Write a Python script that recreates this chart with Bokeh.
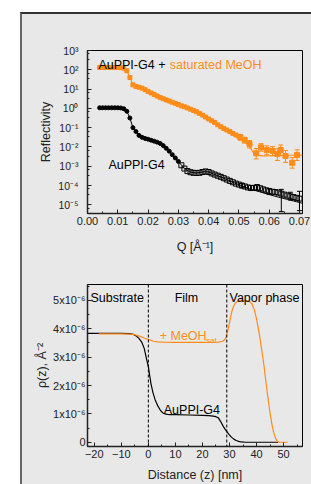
from bokeh.plotting import figure
from bokeh.models import (ColumnDataSource, Whisker, Span, Label, SingleIntervalTicker,
                          CustomJSTickFormatter, NumeralTickFormatter, LogTicker, Range1d,
                          TeeHead, Spacer)
from bokeh.layouts import column, row
from bokeh.embed import file_html
from bokeh.resources import INLINE

FONT = "Liberation Sans"
ORANGE = "#ff8c1a"
PANEL = "#e8e8e8"
INK = "#222222"

# ---------------- Reflectivity data (log10 R) ----------------
q_grid = [0.004, 0.005, 0.006, 0.007, 0.008, 0.009, 0.010, 0.011, 0.012, 0.013,
          0.014, 0.015, 0.016, 0.017, 0.018, 0.019, 0.020, 0.021, 0.022, 0.023,
          0.024, 0.025, 0.026, 0.027, 0.028, 0.029, 0.030, 0.031, 0.032, 0.033,
          0.034, 0.035, 0.036, 0.037, 0.038, 0.039, 0.040, 0.041, 0.042, 0.043,
          0.044, 0.045, 0.046, 0.047, 0.048, 0.049, 0.050, 0.051, 0.052, 0.053,
          0.054, 0.055, 0.056, 0.057, 0.058, 0.059, 0.060, 0.061, 0.062, 0.063,
          0.064, 0.065, 0.066, 0.067, 0.068, 0.069, 0.070]
logr_film = [0.03, 0.03, 0.03, 0.03, 0.03, 0.03, 0.03, 0.02, -0.02, -0.15,
             -0.5, -1.0, -1.2, -1.4, -1.5, -1.56, -1.6, -1.65, -1.7, -1.75,
             -1.82, -1.93, -2.07, -2.22, -2.4, -2.57, -2.75, -2.95, -3.12, -3.25,
             -3.31, -3.34, -3.35, -3.34, -3.3, -3.27, -3.3, -3.37, -3.43, -3.49,
             -3.55, -3.62, -3.69, -3.76, -3.83, -3.9, -3.95, -4.0, -4.05, -4.1,
             -4.13, -4.12, -4.1, -4.14, -4.2, -4.25, -4.3, -4.32, -4.34, -4.37,
             -4.42, -4.47, -4.52, -4.56, -4.6, -4.64, -4.68]
q_fit_film = [0.004, 0.011, 0.012, 0.013, 0.014, 0.015, 0.016, 0.017, 0.018, 0.020,
              0.022, 0.024, 0.026, 0.028, 0.030, 0.032, 0.034, 0.036, 0.038, 0.039,
              0.040, 0.042, 0.045, 0.048, 0.051, 0.054, 0.057, 0.060, 0.063, 0.066,
              0.069, 0.071]
logr_fit_film = [0.03, 0.03, -0.02, -0.15, -0.5, -1.0, -1.2, -1.4, -1.5, -1.6,
                 -1.7, -1.82, -2.07, -2.4, -2.75, -3.12, -3.31, -3.35, -3.3, -3.27,
                 -3.3, -3.43, -3.62, -3.83, -4.02, -4.2, -4.33, -4.47, -4.6, -4.72,
                 -4.84, -4.92]
q_err_film = [0.051, 0.056, 0.060, 0.064, 0.067, 0.070]
logr_err_film_lo = [-4.12, -4.25, -4.45, -5.35, -4.75, -5.3]
logr_err_film_hi = [-3.9, -3.95, -4.15, -4.2, -4.35, -4.3]

q_meoh = [0.004, 0.005, 0.006, 0.007, 0.008, 0.009, 0.010, 0.011, 0.012, 0.013,
          0.014, 0.015, 0.016, 0.017, 0.018, 0.019, 0.020, 0.021, 0.022, 0.023,
          0.024, 0.025, 0.026, 0.027, 0.028, 0.029, 0.030, 0.031, 0.032, 0.033,
          0.034, 0.035, 0.036, 0.037, 0.038, 0.039, 0.040, 0.041, 0.042, 0.043,
          0.044, 0.045, 0.046, 0.047, 0.048, 0.049, 0.050]
logr_meoh = [2.12, 2.12, 2.12, 2.12, 2.12, 2.12, 2.12, 2.11, 2.08, 1.95,
             1.6, 1.22, 1.13, 1.1, 1.05, 0.97, 0.88, 0.8, 0.72, 0.64,
             0.56, 0.5, 0.44, 0.38, 0.32, 0.26, 0.2, 0.13, 0.08, 0.02,
             -0.04, -0.11, -0.18, -0.26, -0.35, -0.45, -0.55, -0.64, -0.73, -0.85,
             -0.95, -1.04, -1.12, -1.2, -1.3, -1.38, -1.45]
q_meoh_err = [0.0505, 0.0519, 0.0535, 0.0557, 0.0573, 0.0592, 0.0611, 0.0627, 0.0638,
              0.0654, 0.0676, 0.0692]
logr_meoh_err = [-1.5, -1.64, -1.85, -2.33, -2.02, -2.16, -2.2, -2.37, -2.16,
                 -2.47, -2.82, -2.42]
logr_meoh_err_lo = [-1.65, -1.8, -2.05, -2.62, -2.22, -2.4, -2.45, -2.7, -2.45,
                    -2.8, -3.1, -2.7]
logr_meoh_err_hi = [-1.36, -1.5, -1.67, -2.08, -1.83, -1.94, -1.98, -2.1, -1.9,
                    -2.18, -2.55, -2.15]
q_fit_meoh = [0.004, 0.011, 0.012, 0.013, 0.014, 0.015, 0.016, 0.017, 0.018, 0.020,
              0.025, 0.030, 0.035, 0.040, 0.045, 0.048, 0.050, 0.052, 0.054, 0.055,
              0.056, 0.058, 0.062, 0.066, 0.071]
logr_fit_meoh = [2.12, 2.12, 2.08, 1.95, 1.6, 1.22, 1.13, 1.1, 1.05, 0.88,
                 0.5, 0.2, -0.11, -0.55, -1.04, -1.3, -1.47, -1.7, -2.1, -2.35,
                 -2.44, -2.46, -2.45, -2.43, -2.42]

# ---------------- Density profiles (units of 1e-6 A^-2) ----------------
z_film = [-25, -10, -7, -5.5, -4.5, -3.5, -2.5, -1.5, -0.7, 0, 0.5, 1, 1.7, 2.5, 3.5,
          4.5, 5.4, 6.5, 7.8, 10, 15, 20, 22.3, 24, 25, 25.9, 26.8, 27.7, 28.3, 28.9,
          29.8, 30.7, 31.6, 32.5, 33.4, 34.3, 36, 40, 48]
rho_film = [3.84, 3.84, 3.83, 3.8, 3.75, 3.66, 3.54, 3.3, 2.95, 2.67, 2.35, 2.05, 1.75,
            1.5, 1.28, 1.12, 1.03, 0.99, 0.97, 0.97, 0.96, 0.95, 0.94, 0.92, 0.9, 0.86,
            0.72, 0.56, 0.47, 0.39, 0.28, 0.18, 0.11, 0.06, 0.03, 0.01, 0.0, 0.0, 0.0]
z_meoh = [-18.4, -10, -7, -5, -4, -3, -2, -1, 0, 1, 2, 3.5, 5.5, 10, 20, 26, 27.5,
          28.3, 28.8, 29.3, 29.8, 30.3, 30.8, 31.4, 32, 32.8, 33.8, 35, 36.5, 37.5,
          38.3, 39.2, 40, 41, 42, 42.8, 43.4, 44, 44.6, 45.2, 45.8, 46.4, 47, 47.6,
          48.5, 51.5]
rho_meoh = [3.82, 3.82, 3.81, 3.79, 3.76, 3.73, 3.69, 3.65, 3.62, 3.59, 3.56, 3.54,
            3.53, 3.52, 3.52, 3.53, 3.56, 3.62, 3.72, 3.9, 4.12, 4.36, 4.58, 4.76,
            4.88, 4.96, 5.0, 5.0, 4.99, 4.95, 4.88, 4.66, 4.35, 3.84, 3.2, 2.67, 2.2,
            1.73, 1.3, 0.91, 0.58, 0.33, 0.15, 0.04, 0.0, 0.0]
interfaces = [0, 29]


def pw(vals):
    return [10 ** v for v in vals]


def e6(vals):
    return [v * 1e-6 for v in vals]


def style_axis(ax, tick_size="11px", label_size="12.5px"):
    ax.major_tick_in = 4
    ax.major_tick_out = 0
    ax.minor_tick_in = 2
    ax.minor_tick_out = 0
    ax.axis_line_width = 1.5
    ax.axis_line_color = INK
    ax.major_tick_line_color = INK
    ax.minor_tick_line_color = INK
    ax.major_label_text_font = FONT
    ax.major_label_text_font_size = tick_size
    ax.major_label_text_color = INK
    ax.axis_label_text_font = FONT
    ax.axis_label_text_font_size = label_size
    ax.axis_label_text_font_style = "normal"
    ax.axis_label_text_color = INK


SUP = "{'0':'⁰','1':'¹','2':'²','3':'³','4':'⁴','5':'⁵','6':'⁶','7':'⁷','8':'⁸','9':'⁹','-':'⁻'}"

# ---------------- Top figure ----------------
p1 = figure(width=289, height=248, x_range=Range1d(0, 0.071),
            y_range=Range1d(10 ** -5.45, 1e3), y_axis_type="log",
            output_backend="svg", toolbar_location=None,
            min_border_left=65, min_border_right=6, min_border_top=36, min_border_bottom=49,
            background_fill_color=PANEL, border_fill_color=PANEL)
p1.grid.visible = False
p1.outline_line_color = "black"
p1.outline_line_width = 1
style_axis(p1.xaxis[0])
style_axis(p1.yaxis[0], tick_size="10.5px")
p1.xaxis.ticker = SingleIntervalTicker(interval=0.01, num_minor_ticks=2)
p1.xaxis.formatter = NumeralTickFormatter(format="0.00")
p1.yaxis.ticker = LogTicker(mantissas=[1], num_minor_ticks=3)
p1.yaxis.formatter = CustomJSTickFormatter(code="""
const s = %s;
const e = Math.round(Math.log10(tick));
return '10' + String(e).split('').map(c => s[c]).join('');
""" % SUP)
p1.xaxis.axis_label = "Q [Å⁻¹]"
p1.yaxis.axis_label = "Reflectivity"
p1.xaxis.major_label_standoff = 3
p1.xaxis.axis_label_standoff = 12
p1.yaxis.major_label_standoff = 9
p1.yaxis.axis_label_standoff = 2

# fit lines
p1.line(q_fit_film, pw(logr_fit_film), line_color="black", line_width=1)
p1.line(q_fit_meoh, pw(logr_fit_meoh), line_color=ORANGE, line_width=1.2)

# film data
low = [i for i, q in enumerate(q_grid) if q < 0.031]
high = [i for i, q in enumerate(q_grid) if q >= 0.031]
p1.scatter([q_grid[i] for i in low], [10 ** logr_film[i] for i in low], marker="circle",
           size=4, fill_color="black", line_color="black")
p1.scatter([q_grid[i] for i in high], [10 ** logr_film[i] for i in high], marker="square",
           size=5, fill_color=None, line_color="black", line_width=1)
src_fe = ColumnDataSource(dict(q=q_err_film, lo=pw(logr_err_film_lo), hi=pw(logr_err_film_hi)))
p1.add_layout(Whisker(base="q", lower="lo", upper="hi", source=src_fe, dimension="height",
                      line_color="black", line_width=1,
                      lower_head=TeeHead(size=5, line_color="black", line_width=1),
                      upper_head=TeeHead(size=5, line_color="black", line_width=1)))

# meoh data
p1.scatter(q_meoh, pw(logr_meoh), marker="square", size=4, fill_color=ORANGE,
           line_color=ORANGE)
src_me = ColumnDataSource(dict(q=q_meoh_err, lo=pw(logr_meoh_err_lo), hi=pw(logr_meoh_err_hi)))
p1.add_layout(Whisker(base="q", lower="lo", upper="hi", source=src_me, dimension="height",
                      line_color=ORANGE, line_width=1,
                      lower_head=TeeHead(size=5, line_color=ORANGE, line_width=1),
                      upper_head=TeeHead(size=5, line_color=ORANGE, line_width=1)))
p1.scatter(q_meoh_err, pw(logr_meoh_err), marker="square", size=5, fill_color=ORANGE,
           line_color=ORANGE)

p1.add_layout(Label(x=0.0036, y=10 ** 2.27, text="AuPPI-G4 +", text_font=FONT,
                    text_font_size="12.5px", text_color="black", text_baseline="alphabetic"))
p1.add_layout(Label(x=0.0272, y=10 ** 2.27, text="saturated MeOH", text_font=FONT,
                    text_font_size="12.5px", text_color=ORANGE, text_baseline="alphabetic"))
p1.add_layout(Label(x=0.0069, y=10 ** -2.94, text="AuPPI-G4", text_font=FONT,
                    text_font_size="12.5px", text_color="black", text_baseline="alphabetic"))

# ---------------- Bottom figure ----------------
p2 = figure(width=289, height=222, x_range=Range1d(-22.5, 57),
            y_range=Range1d(-0.15e-6, 5.56e-6),
            output_backend="svg", toolbar_location=None,
            min_border_left=61, min_border_right=9, min_border_top=22, min_border_bottom=37,
            background_fill_color=PANEL, border_fill_color=PANEL)
p2.grid.visible = False
p2.outline_line_color = "black"
p2.outline_line_width = 1
style_axis(p2.xaxis[0])
style_axis(p2.yaxis[0])
p2.xaxis.ticker = SingleIntervalTicker(interval=10, num_minor_ticks=2)
p2.yaxis.ticker = SingleIntervalTicker(interval=1e-6, num_minor_ticks=2)
p2.yaxis.formatter = CustomJSTickFormatter(code="""
const v = Math.round(tick * 1e6);
return v == 0 ? '0' : v + 'x10⁻⁶';
""")
p2.xaxis.axis_label = "Distance (z) [nm]"
p2.yaxis.axis_label = "ρ(z), Å⁻²"
p2.xaxis.major_label_standoff = 3
p2.xaxis.axis_label_standoff = 7
p2.yaxis.major_label_standoff = 2
p2.yaxis.axis_label_standoff = 1

for zi in interfaces:
    p2.add_layout(Span(location=zi, dimension="height", line_color="black",
                       line_width=1, line_dash="3 2"))

p2.line(z_film, e6(rho_film), line_color="black", line_width=1.2)
p2.line(z_meoh, e6(rho_meoh), line_color=ORANGE, line_width=1.2)

for txt, x in [("Substrate", -21.4), ("Film", 14.1), ("Vapor phase", 30.0)]:
    p2.add_layout(Label(x=x, y=5.08e-6, text=txt, text_font=FONT, text_font_size="12.5px",
                        text_color="black", text_baseline="alphabetic",
                        text_align="center" if txt == "Film" else "left"))
p2.add_layout(Label(x=4.2, y=3.74e-6, text="+ MeOH", text_font=FONT,
                    text_font_size="12.5px", text_color=ORANGE, text_baseline="alphabetic"))
p2.add_layout(Label(x=21.3, y=3.6e-6, text="sat", text_font=FONT,
                    text_font_size="8px", text_color=ORANGE, text_baseline="alphabetic"))
p2.add_layout(Label(x=5.7, y=1.15e-6, text="AuPPI-G4", text_font=FONT,
                    text_font_size="12.5px", text_color="black", text_baseline="alphabetic"))

panel = column(p1, p2,
               styles={"background-color": PANEL, "border-left": "2px solid #666666",
                       "border-top": "2px solid #333333"})
layout = column(Spacer(width=20, height=12),
                row(Spacer(width=20, height=10), panel))

open("out.html", "w").write(file_html(layout, INLINE))
